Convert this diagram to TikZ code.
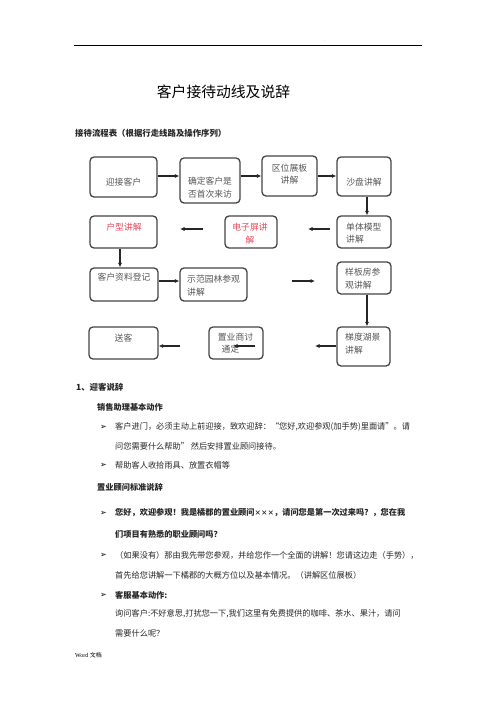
\documentclass[tikz,border=0pt]{standalone}
\usepackage{fontspec}
\setmainfont{Liberation Serif}
\newfontfamily\cjk{Noto Sans CJK SC}
\newfontfamily\symf{DejaVu Sans}
\usetikzlibrary{arrows.meta}
\definecolor{boxline}{HTML}{444444}
\definecolor{boxtext}{HTML}{555555}
\definecolor{redtext}{HTML}{E8485A}
\definecolor{bodytext}{HTML}{262626}
\begin{document}
\begin{tikzpicture}[x=1pt,y=-1pt,
  box/.style={draw=boxline, line width=1.3pt, rounded corners=4pt, inner sep=0pt},
  btxt/.style={font=\cjk\fontsize{8.8}{12.5}\selectfont, text=boxtext, inner sep=0pt},
  arr/.style={-{Latex[length=4.5pt,width=4.2pt]}, line width=1.2pt, draw=black!85},
  body/.style={font=\cjk\fontsize{8.2}{10}\selectfont, anchor=west, inner sep=0pt, text=bodytext},
  bodyb/.style={body, font=\cjk\bfseries\fontsize{8.2}{10}\selectfont},
  bul/.style={font=\symf\bfseries\fontsize{8}{9}\selectfont, anchor=west, inner sep=0pt, text=black}
]
\useasboundingbox (0,0) rectangle (496,702);

% header
\coordinate (hl) at (74,45);
\coordinate (hr) at (422,45);
\draw[line width=0.8pt] (hl) -- (hr);
\node[text=black!40, font=\fontsize{4}{4}\selectfont, inner sep=0pt] (mark) at (325,41) {-};

% title
\node[font=\cjk\fontsize{14.8}{16}\selectfont, inner sep=0pt] (title) at (223.5,92) {客户接待动线及说辞};
\node[bodyb, font=\cjk\bfseries\fontsize{8.4}{10}\selectfont] (sub) at (75,133) {接待流程表（根据行走线路及操作序列）};

% boxes
\node[box, minimum width=67pt, minimum height=40pt] (b1) at (123.5,177) {};
\node[box, minimum width=60pt, minimum height=45pt] (b2) at (210,180.5) {};
\node[box, minimum width=55pt, minimum height=40pt] (b3) at (289.5,176) {};
\node[box, minimum width=54pt, minimum height=39pt] (b4) at (364,176.5) {};
\node[box, minimum width=67pt, minimum height=32pt] (b5) at (123.5,232) {};
\node[box, minimum width=52pt, minimum height=32pt] (b6) at (251,232) {};
\node[box, minimum width=54pt, minimum height=32pt] (b7) at (364,232) {};
\node[box, minimum width=68pt, minimum height=33pt] (b8) at (124,284.5) {};
\node[box, minimum width=67pt, minimum height=33pt] (b9) at (213.5,284.5) {};
\node[box, minimum width=54pt, minimum height=32pt] (b10) at (364,278) {};
\node[box, minimum width=69pt, minimum height=32pt] (b11) at (123.5,343) {};
\node[box, minimum width=54pt, minimum height=32pt] (b12) at (236,343) {};
\node[box, minimum width=53pt, minimum height=39pt] (b13) at (363.5,346.5) {};

% box texts
\node[btxt] (t1) at (123.5,182) {迎接客户};
\node[btxt, align=center] (t2) at (210,187.5) {确定客户是\\否首次来访};
\node[btxt, align=center] (t3) at (289.5,174) {区位展板\\讲解};
\node[btxt] (t4) at (364,182) {沙盘讲解};
\node[btxt, text=redtext] (t5) at (124,227) {户型讲解};
\node[btxt, text=redtext, align=center] (t6) at (250,233.5) {电子屏讲\\解};
\node[btxt, align=left, anchor=west] (t7) at (346,233) {单体模型\\讲解};
\node[btxt] (t8) at (124,277) {客户资料登记};
\node[btxt, align=left, anchor=west] (t9) at (187,285.5) {示范园林参观\\讲解};
\node[btxt, align=left, anchor=west] (t10) at (345,278.5) {样板房参\\观讲解};
\node[btxt] (t11) at (123.5,338) {送客};
\node[btxt] (t12a) at (235.5,337) {置业商讨};
\node[btxt] (t12b) at (230.5,349) {通定};
\node[btxt, align=left, anchor=west] (t13) at (345,343.5) {梯度湖景\\讲解};

% connectors
\draw[arr] (b1.east |- 0,176) -- (b2.west |- 0,176);
\draw[arr] (b2.east |- 0,176) -- (b3.west |- 0,176);
\draw[arr] (b3.east |- 0,176) -- (b4.west |- 0,176);
\draw[arr] (b4.south -| 367,0) -- (b7.north -| 367,0);
\coordinate (f1s) at (330,229);
\coordinate (f1e) at (308,229);
\draw[arr] (f1s) -- (f1e);
\coordinate (f2s) at (203,229);
\coordinate (f2e) at (180,229);
\draw[arr] (f2s) -- (f2e);
\draw[arr] (b5.south -| 120,0) -- (b8.north -| 120,0);
\draw[arr] (b8.east |- 0,281) -- (b9.west |- 0,281);
\coordinate (f3s) at (292,281);
\coordinate (f3e) at (315,281);
\draw[arr] (f3s) -- (f3e);
\draw[arr] (b10.south -| 367,0) -- (b13.north -| 367,0);
\coordinate (f4e) at (315,346);
\draw[arr] (b13.west |- f4e) -- (f4e);
\coordinate (f5s) at (255,346);
\coordinate (f5e) at (233,346);
\draw[arr] (f5s) -- (f5e);
\coordinate (f6s) at (180,346);
\draw[arr] (f6s) -- (b11.east |- f6s);

% body text
\node[bodyb, font=\cjk\bfseries\fontsize{8.4}{10}\selectfont] (s1) at (76,387) {1、迎客说辞};
\node[bodyb] (h1) at (97,407) {销售助理基本动作};
\node[bul] (u1) at (100,427) {➢};
\node[body] (l1) at (115,427) {客户进门，必须主动上前迎接，致欢迎辞：“您好,欢迎参观(加手势)里面请”。请};
\node[body] (l2) at (115,446) {问您需要什么帮助” 然后安排置业顾问接待。};
\node[bul] (u2) at (100,465) {➢};
\node[body] (l3) at (115,465) {帮助客人收拾雨具、放置衣帽等};
\node[bodyb] (h2) at (97,487) {置业顾问标准说辞};
\node[bul] (u3) at (100,513) {➢};
\node[bodyb] (l4) at (115,513) {您好，欢迎参观！我是橘郡的置业顾问{\fontsize{6.5}{8}\selectfont ×××}，请问您是第一次过来吗？，您在我};
\node[bodyb] (l5) at (115,534) {们项目有熟悉的职业顾问吗？};
\node[bul] (u4) at (100,555) {➢};
\node[body] (l6) at (115,555) {（如果没有）那由我先带您参观，并给您作一个全面的讲解！您请这边走（手势），};
\node[body] (l7) at (115,575) {首先给您讲解一下橘郡的大概方位以及基本情况。（讲解区位展板）};
\node[bul] (u5) at (100,595) {➢};
\node[bodyb] (l8) at (115,595) {客服基本动作:};
\node[body] (l9) at (115,614) {询问客户:不好意思,打扰您一下,我们这里有免费提供的咖啡、茶水、果汁，请问};
\node[body] (l10) at (115,633) {需要什么呢？};

% footer
\node[anchor=west, inner sep=0pt, font=\fontsize{6}{7}\selectfont] (foot) at (75,655) {Word {\cjk 文档}};
\end{tikzpicture}
\end{document}
